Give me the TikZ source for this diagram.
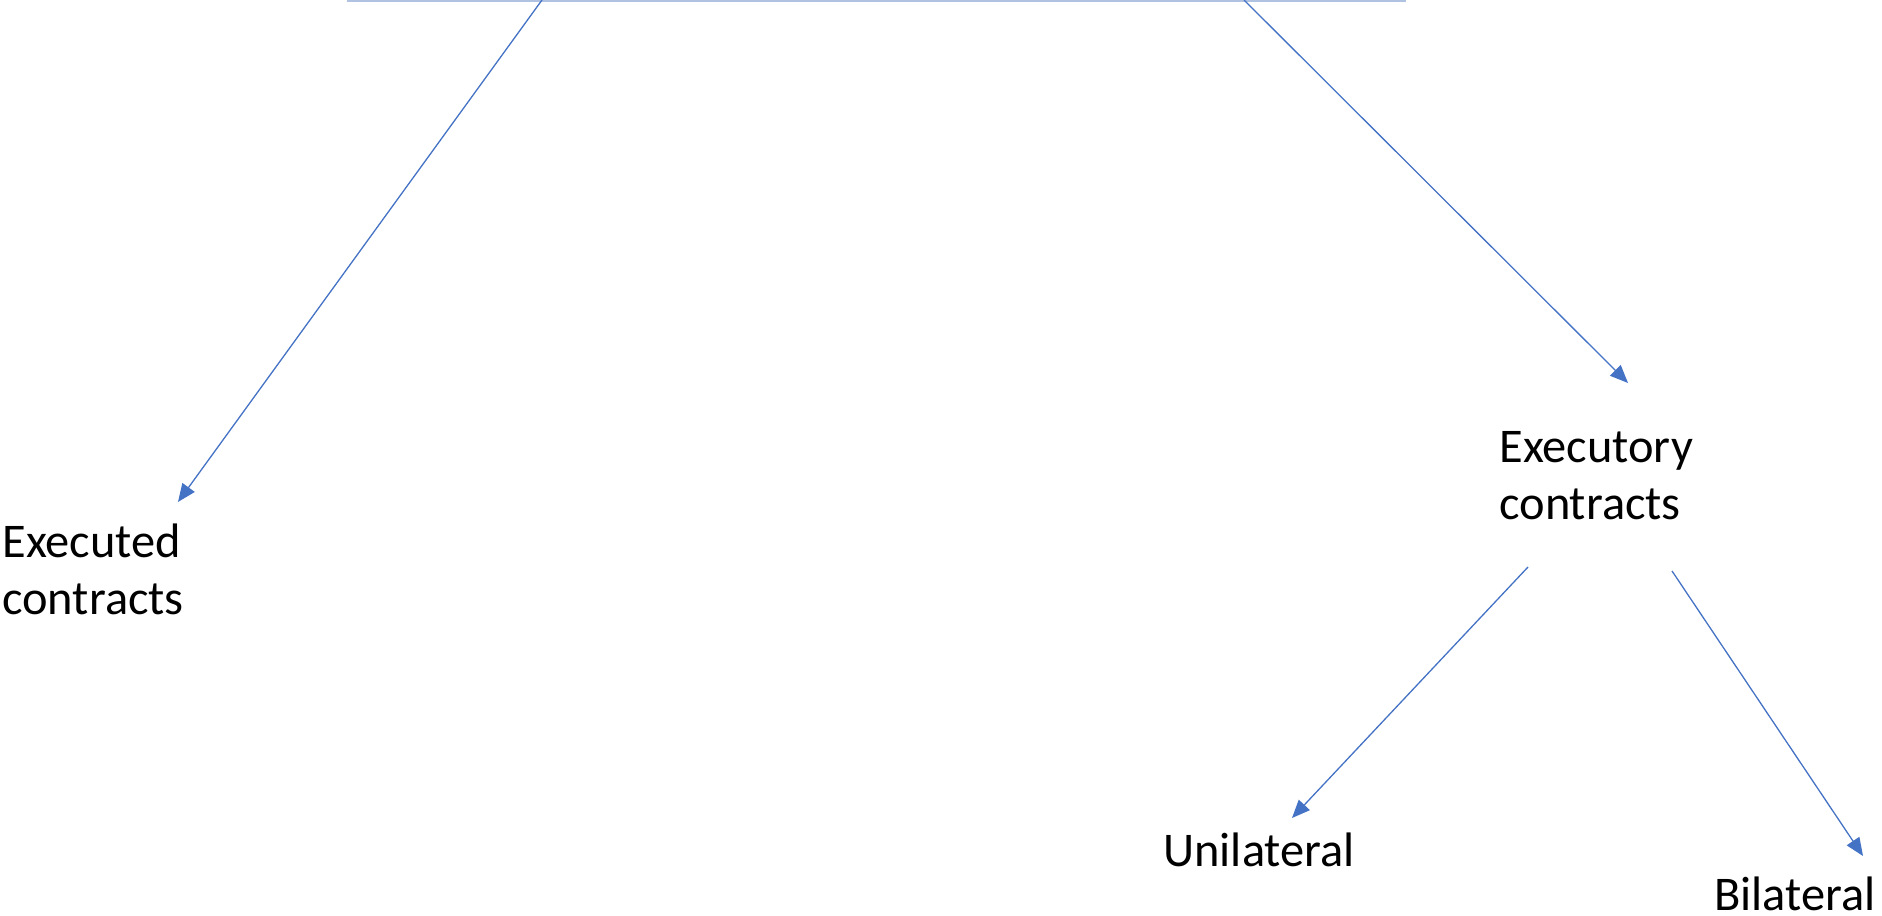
\documentclass[tikz,border=0pt]{standalone}
\usepackage{fontspec}
\setmainfont{Carlito}
\usetikzlibrary{arrows.meta}
\definecolor{linkblue}{HTML}{4472C4}
\definecolor{edgeblue}{HTML}{B0C2E2}
\begin{document}
\begin{tikzpicture}[x=0.5pt,y=-0.5pt,
  conn/.style={draw=linkblue, line width=0.65pt, -{Triangle[length=9pt,width=7.5pt]}},
  lbl/.style={font=\fontsize{24.2}{28.4}\selectfont, align=left, anchor=base west, inner sep=0pt},
  topedge/.style={draw=edgeblue, line width=1pt}]
\useasboundingbox (0,0) rectangle (1882,915);
% bottom edge of the (cut-off) root box
\coordinate (rootL) at (347,1);
\coordinate (rootR) at (1406,1);
\draw[topedge] (rootL) -- (rootR);
\coordinate (rootA) at (542,0);
\coordinate (rootB) at (1244,0);
% labels (base anchor = baseline of the last line)
\node[lbl] (executed) at (2,614) {Executed\\contracts};
\node[lbl] (executory) at (1499,519) {Executory\\contracts};
\node[lbl] (unilateral) at (1163,866) {Unilateral};
\node[lbl] (bilateral) at (1714,910) {Bilateral};
% connector ends
\coordinate (tipExecuted) at (178,502);
\coordinate (tipExecutory) at (1628,383);
\coordinate (fromExL) at (1528,567);
\coordinate (fromExR) at (1672,571);
\coordinate (tipUni) at (1292,818);
\coordinate (tipBi) at (1863,856);
\draw[conn] (rootA) -- (tipExecuted);
\draw[conn] (rootB) -- (tipExecutory);
\draw[conn] (fromExL) -- (tipUni);
\draw[conn] (fromExR) -- (tipBi);
\end{tikzpicture}
\end{document}
